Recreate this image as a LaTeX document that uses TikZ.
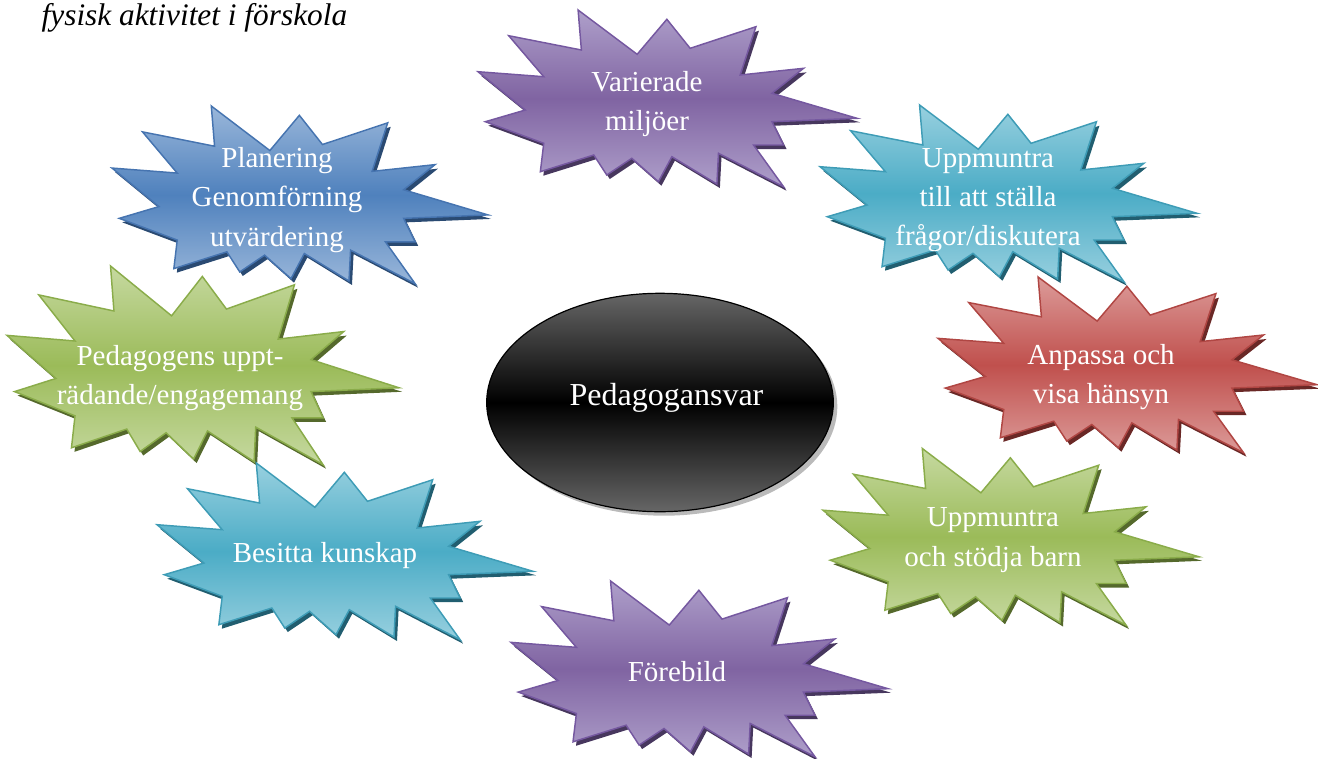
\documentclass[tikz,border=0pt]{standalone}
\usepackage{fontspec}
\setmainfont{Liberation Serif}
\usetikzlibrary{shapes.geometric,shadows}

\definecolor{purL}{HTML}{AE9FCA}
\definecolor{purD}{HTML}{8064A2}
\definecolor{purB}{HTML}{7558A0}
\definecolor{purS}{HTML}{47375E}
\definecolor{bluL}{HTML}{9AB7DA}
\definecolor{bluD}{HTML}{4F81BD}
\definecolor{bluB}{HTML}{4674B0}
\definecolor{bluS}{HTML}{2A4A72}
\definecolor{cyaL}{HTML}{98D0DF}
\definecolor{cyaD}{HTML}{4BACC6}
\definecolor{cyaB}{HTML}{3E9CB6}
\definecolor{cyaS}{HTML}{215E70}
\definecolor{redL}{HTML}{DC9B99}
\definecolor{redD}{HTML}{C0504D}
\definecolor{redB}{HTML}{B04643}
\definecolor{redS}{HTML}{6A2826}
\definecolor{grnL}{HTML}{C6D9A0}
\definecolor{grnD}{HTML}{9BBB59}
\definecolor{grnB}{HTML}{8AAC4A}
\definecolor{grnS}{HTML}{55692C}
\definecolor{ellG}{HTML}{666666}

\newcommand\burstpath{(0.2641,0) -- (0.4199,0.2503) -- (0.4983,0.0525) -- (0.5598,0.2164) -- (0.7333,0.0944) -- (0.6918,0.3672) -- (0.8590,0.3294) -- (0.7756,0.4706) -- (1,0.6119) -- (0.7756,0.6311) -- (0.8062,0.7627) -- (0.7270,0.7627) -- (0.8062,0.9983) -- (0.6345,0.8096) -- (0.6303,0.9831) -- (0.5115,0.8288) -- (0.4761,0.9701) -- (0.4058,0.8379) -- (0.3398,0.9322) -- (0.3055,0.8192) -- (0.1645,0.9136) -- (0.1735,0.7531) -- (0.0193,0.6311) -- (0.1249,0.5650) -- (0,0.3486) -- (0.1735,0.3768) -- (0.0811,0.1452) -- (0.2728,0.2260) -- cycle}

% #1 x0, #2 y0, #3 w, #4 h, #5 colour prefix
\newcommand\burst[5]{%
  \begin{scope}[shift={(#1+3,#2+4)},xscale=#3,yscale=#4]
    \fill[#5S] \burstpath;
  \end{scope}
  \begin{scope}[shift={(#1,#2)},xscale=#3,yscale=#4]
    \path[draw=#5B, line width=1.1pt, line join=miter, miter limit=20,
          top color=#5L, bottom color=#5L, middle color=#5D] \burstpath;
  \end{scope}}

\tikzset{
  bursttext/.style={align=center, text=white, inner sep=0pt,
    font=\fontsize{21.75pt}{29.5pt}\selectfont}
}

\begin{document}
\begin{tikzpicture}[x=0.75pt,y=-0.75pt]
\useasboundingbox (0,0) rectangle (1318,758);

\node (title) [anchor=base west, font=\itshape\fontsize{23.5pt}{26pt}\selectfont] at (37,25) {fysisk aktivitet i förskola};

% central ellipse
\node (center) [ellipse, draw=black, line width=0.9pt, inner sep=0pt,
  minimum width=260pt, minimum height=163.8pt,
  top color=ellG, bottom color=ellG, middle color=black,
  drop shadow={shadow xshift=3pt, shadow yshift=-3pt, fill=black!45, opacity=0.6}]
  at (660,402.5) {};
\node (centertext) [text=white, inner sep=0pt, font=\fontsize{24pt}{26pt}\selectfont]
  at (666.5,398) {Pedagogansvar};

% bursts
\burst{112}{106}{376}{178}{blu}
\node (plan) [bursttext] at (277,200) {Planering\\Genomförning\\utvärdering};

\burst{7}{266}{392}{199}{grn}
\node (ped) [bursttext] at (180,378) {Pedagogens uppt-\\rädande/engagemang};

\burst{157}{463}{376}{177}{cya}
\node (besitta) [bursttext] at (325,556) {Besitta kunskap};

\burst{511}{581}{377}{176}{pur}
\node (forebild) [bursttext] at (677,672) {Förebild};

\burst{823}{448.5}{376}{177}{grn}
\node (stodja) [bursttext] at (993,540) {Uppmuntra\\och stödja barn};

\burst{938}{277}{379}{176}{red}
\node (anpassa) [bursttext] at (1101,377) {Anpassa och\\visa hänsyn};

\burst{820}{105}{377}{177}{cya}
\node (fragor) [bursttext] at (988,200) {Uppmuntra\\till att ställa\\frågor/diskutera};

\burst{478}{10}{379}{177}{pur}
\node (miljo) [bursttext] at (647,104) {Varierade\\miljöer};

\end{tikzpicture}
\end{document}
